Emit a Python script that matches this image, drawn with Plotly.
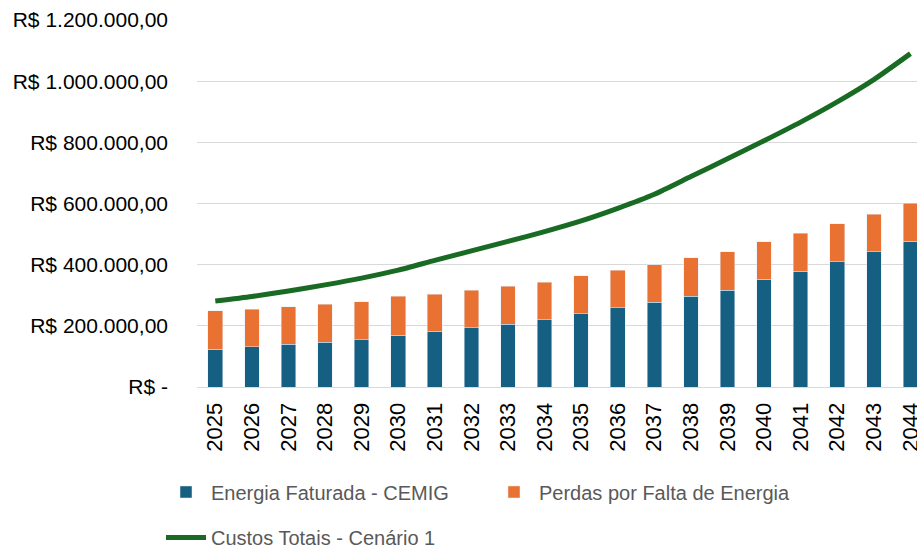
import plotly.graph_objects as go

years = [str(y) for y in range(2025, 2045)]
energia_faturada = [124000, 131000, 139000, 147000, 154000, 170000, 182000, 193000, 206000, 220000,
                    240000, 259000, 277000, 297000, 317000, 352000, 379000, 409000, 443000, 477000]
totais_barras = [249000, 254000, 263000, 271000, 278000, 296000, 304000, 316000, 329000, 343000,
                 363000, 382000, 400000, 422000, 443000, 475000, 502000, 533000, 565000, 601000]
perdas = [t - e for t, e in zip(totais_barras, energia_faturada)]
custos_totais = [281000, 296000, 314000, 334000, 356000, 382000, 414000, 445000, 476000, 508000,
                 543000, 584000, 630000, 688000, 746000, 805000, 866000, 932000, 1005000, 1090000]
y_ticks = [0, 200000, 400000, 600000, 800000, 1000000, 1200000]


def brl(v):
    if v == 0:
        return "R$ -"
    s = f"{v:,.2f}"  # 1,200,000.00
    s = s.replace(",", "X").replace(".", ",").replace("X", ".")
    return "R$ " + s


BLUE = "#156082"
ORANGE = "#E97132"
GREEN = "#196B24"

fig = go.Figure()
fig.add_trace(go.Bar(x=years, y=energia_faturada, name="Energia Faturada - CEMIG",
                     marker=dict(color=BLUE), legend="legend"))
fig.add_trace(go.Bar(x=years, y=perdas, name="Perdas por Falta de Energia",
                     marker=dict(color=ORANGE), legend="legend"))
fig.add_trace(go.Scatter(x=years, y=custos_totais, name="Custos Totais - Cenário 1",
                         mode="lines", line=dict(color=GREEN, width=5, shape="spline", smoothing=0.6),
                         cliponaxis=False, legend="legend2"))

legend_font = dict(family="Liberation Sans, Arial, sans-serif", size=20, color="#595959")

fig.update_layout(
    width=917, height=548,
    margin=dict(l=197, r=0, t=20, b=161, autoexpand=False),
    paper_bgcolor="white", plot_bgcolor="white",
    barmode="stack", bargap=0.6,
    font=dict(family="Liberation Sans, Arial, sans-serif", color="black"),
    xaxis=dict(type="category", range=[-0.5, 19.18], tickangle=-90,
               tickfont=dict(size=22, color="black"), showgrid=False,
               showline=True, linecolor="#D9D9D9", linewidth=1, ticks="",
               ticklabelstandoff=6, automargin=False),
    yaxis=dict(range=[0, 1200000], tickvals=y_ticks, ticktext=[brl(v) for v in y_ticks],
               tickfont=dict(size=21, color="black"), showgrid=True, gridcolor="#D9D9D9",
               gridwidth=1, zeroline=False, showline=False, ticks="", ticklabelstandoff=28,
               automargin=False),
    legend=dict(orientation="h", x=-0.05, xanchor="left", y=-0.286, yanchor="middle",
                font=legend_font, entrywidth=273, entrywidthmode="pixels",
                bgcolor="rgba(0,0,0,0)", itemwidth=40, traceorder="normal"),
    legend2=dict(orientation="h", x=-0.05, xanchor="left", y=-0.41, yanchor="middle",
                 font=legend_font, bgcolor="rgba(0,0,0,0)", itemwidth=40),
    showlegend=True,
)

fig.write_html("out.html", config={"displayModeBar": False},
               post_script="document.body.style.margin='0';document.body.style.overflow='hidden';")
